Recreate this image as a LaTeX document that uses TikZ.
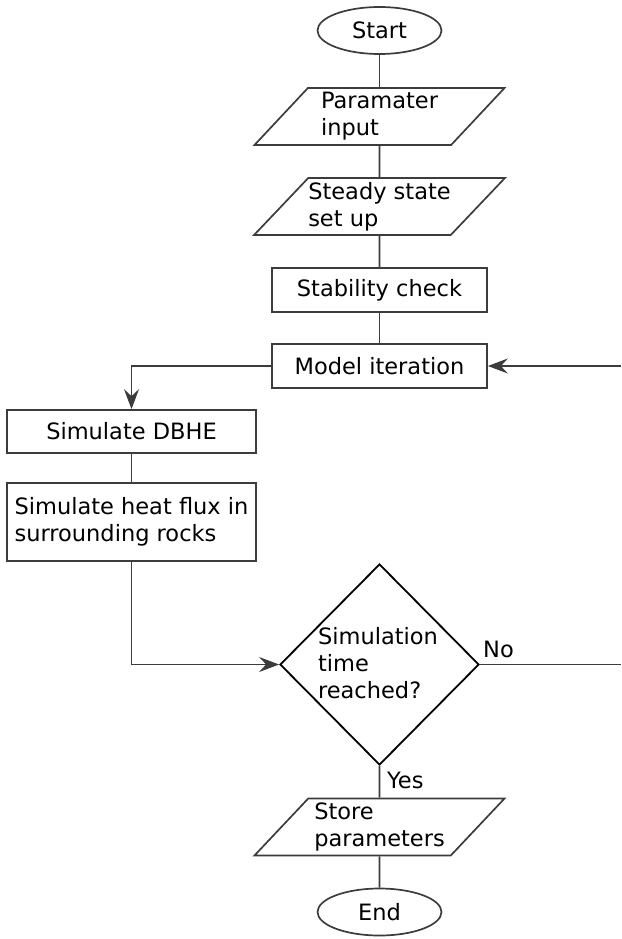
\documentclass[tikz,border=0pt]{standalone}
\usepackage{fontspec}
\setmainfont{DejaVu Sans}
\usetikzlibrary{shapes.geometric,arrows.meta}
\definecolor{ln}{HTML}{3C3C3C}
\begin{document}
\begin{tikzpicture}[x=1pt,y=-1pt,
  every node/.style={font=\fontsize{22.5}{27}\selectfont, inner sep=0pt, text=black},
  term/.style={ellipse, draw=ln, line width=1.7pt, minimum width=124, minimum height=47},
  io/.style={trapezium, trapezium left angle=42, trapezium right angle=138, trapezium stretches body,
     draw=ln, line width=1.7pt, minimum width=250, minimum height=57, align=left},
  proc/.style={rectangle, draw=ln, line width=1.7pt, align=left},
  dec/.style={diamond, draw=black, line width=1.8pt, minimum width=199, minimum height=201},
  con/.style={draw=ln, line width=1.7pt},
  arr/.style={con, -{Stealth[length=20pt, width=15pt, inset=7pt]}},
  lbl/.style={anchor=west}
]
\useasboundingbox (0,0) rectangle (621,939);

\node[term] (start) at (379.5,30.5) {Start};
\node[io] (param) at (379.5,116.5) {Paramater\\input};
\node[io] (steady) at (379.5,206.5) {Steady state\\set up};
\node[proc, minimum width=215, minimum height=44] (stab) at (379.5,290) {Stability check};
\node[proc, minimum width=215, minimum height=44] (model) at (379.5,366) {Model iteration};
\node[proc, minimum width=249, minimum height=43] (dbhe) at (131.5,431.5) {Simulate DBHE};
\node[proc, minimum width=249, minimum height=78] (heat) at (131.5,522) {Simulate heat flux in\\surrounding rocks};
\node[dec] (dcs) at (379.5,664.5) {};
\node[align=left] (dtext) at (378,663.5) {Simulation\\time\\reached?};
\node[io] (store) at (379.5,827) {Store\\parameters};
\node[term] (end) at (379.5,912) {End};

\coordinate (noR) at (621,664.5);
\coordinate (inR) at (621,366);

\draw[con] (start) -- (param);
\draw[con] (param) -- (steady);
\draw[con] (steady) -- (stab);
\draw[con] (stab) -- (model);
\draw[arr] (model.west) -| (dbhe.north);
\draw[con] (dbhe) -- (heat);
\draw[arr] (heat.south) |- (dcs.west);
\draw[con] (dcs.east) -- (noR);
\draw[arr] (inR) -- (model.east);
\draw[con] (dcs.south) -- (store);
\draw[con] (store) -- (end);

\node[lbl] (no) at (483,649) {No};
\node[lbl] (yes) at (387,780) {Yes};
\end{tikzpicture}
\end{document}
